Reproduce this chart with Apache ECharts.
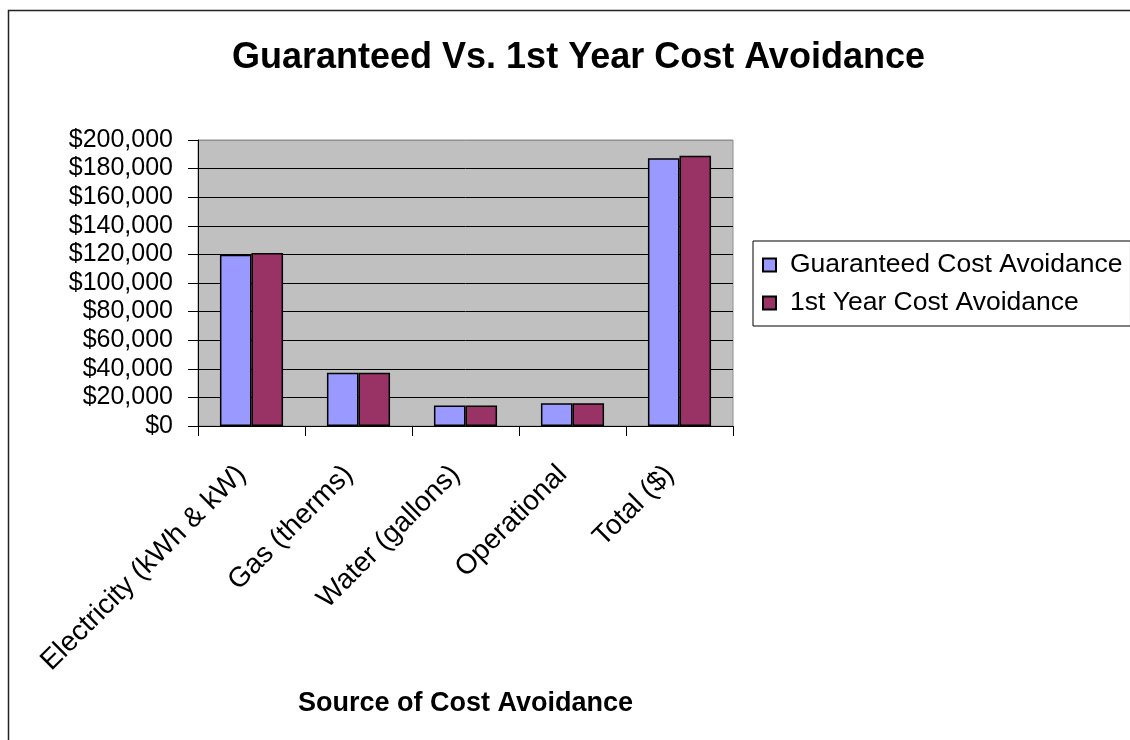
<!DOCTYPE html>
<html>
<head>
<meta charset="utf-8">
<script src="https://cdn.jsdelivr.net/npm/echarts@6/dist/echarts.min.js"></script>
<style>
  html, body { margin: 0; padding: 0; background: #ffffff; }
  #chart { width: 1130px; height: 740px; }
</style>
</head>
<body>
<div id="chart"></div>
<script>
// Cost avoidance by source
const categories = ['Electricity (kWh & kW)', 'Gas (therms)', 'Water (gallons)', 'Operational', 'Total ($)'];
const guaranteed = [119800, 37200, 14400, 15900, 187300];
const firstYear = [121000, 37300, 14400, 15900, 189000];
const seriesNames = ['Guaranteed Cost Avoidance', '1st Year Cost Avoidance'];
const yTicks = { min: 0, max: 200000, interval: 20000 };

const FONT = '"Liberation Sans", Arial, sans-serif';
const chart = echarts.init(document.getElementById('chart'), null, { renderer: 'canvas' });

const money = v => '$' + Number(v).toLocaleString('en-US');

// gridlines are black; the top one coincides with the grey plot-area frame
const tickCount = Math.round((yTicks.max - yTicks.min) / yTicks.interval) + 1;
const gridColors = Array.from({ length: tickCount }, (_, i) => (i === tickCount - 1 ? '#909090' : '#000000'));

chart.setOption({
  backgroundColor: '#ffffff',
  animation: false,
  textStyle: { fontFamily: FONT },
  graphic: [{
    type: 'rect',
    silent: true,
    shape: { x: 8.5, y: 10.5, width: 1200, height: 800 },
    style: { fill: 'none', stroke: '#222222', lineWidth: 1.5 }
  }],
  title: {
    text: 'Guaranteed Vs. 1st Year Cost Avoidance',
    left: 227,
    top: 35,
    textStyle: { fontFamily: FONT, fontSize: 36, fontWeight: 'bold', color: '#000000' }
  },
  legend: {
    orient: 'vertical',
    left: 753,
    top: 241,
    padding: [9, 8, 8, 9],
    itemGap: 8,
    itemWidth: 13,
    itemHeight: 13,
    icon: 'rect',
    borderColor: '#000000',
    borderWidth: 1,
    backgroundColor: '#ffffff',
    data: seriesNames,
    textStyle: { fontFamily: FONT, fontSize: 26.5, color: '#000000', lineHeight: 30, padding: [0, 0, 0, 9] }
  },
  grid: {
    left: 198,
    top: 140,
    right: 1130 - 733,
    bottom: 740 - 426,
    show: true,
    backgroundColor: '#c0c0c0',
    borderColor: '#909090',
    borderWidth: 1,
    containLabel: false
  },
  xAxis: {
    type: 'category',
    data: categories,
    name: 'Source of Cost Avoidance',
    nameLocation: 'middle',
    nameGap: 264,
    nameTextStyle: { fontFamily: FONT, fontSize: 27, fontWeight: 'bold', color: '#000000' },
    axisLine: { show: true, lineStyle: { color: '#000000', width: 1 } },
    axisTick: { show: true, alignWithLabel: false, length: 10, lineStyle: { color: '#000000' } },
    axisLabel: {
      rotate: 45,
      margin: 54,
      interval: 0,
      verticalAlign: 'bottom',
      align: 'right',
      fontFamily: FONT,
      fontSize: 28,
      color: '#000000'
    },
    splitLine: { show: false }
  },
  yAxis: {
    type: 'value',
    min: yTicks.min,
    max: yTicks.max,
    interval: yTicks.interval,
    axisLine: { show: true, lineStyle: { color: '#000000', width: 1 } },
    axisTick: { show: true, length: 10, lineStyle: { color: '#000000' } },
    axisLabel: { formatter: money, margin: 25, fontFamily: FONT, fontSize: 25, color: '#000000' },
    splitLine: { show: true, lineStyle: { color: gridColors, width: 1 } }
  },
  series: [
    {
      name: seriesNames[0],
      type: 'bar',
      data: guaranteed,
      barGap: '0%',
      barCategoryGap: '41%',
      itemStyle: { color: '#9999ff', borderColor: '#000000', borderWidth: 1.5 }
    },
    {
      name: seriesNames[1],
      type: 'bar',
      data: firstYear,
      barGap: '0%',
      barCategoryGap: '41%',
      itemStyle: { color: '#993366', borderColor: '#000000', borderWidth: 1.5 }
    }
  ]
});
</script>
</body>
</html>
